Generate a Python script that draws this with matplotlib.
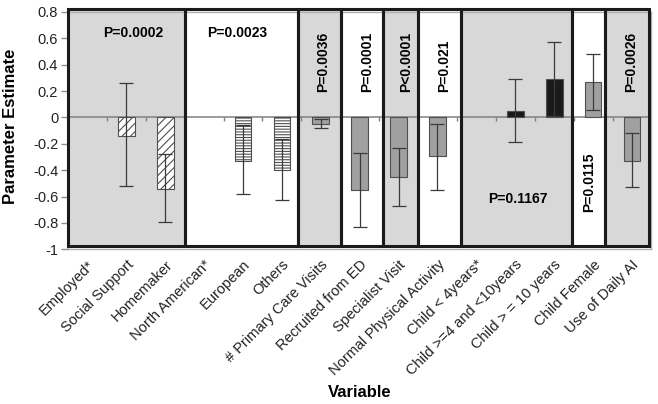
import numpy as np
import matplotlib
matplotlib.use('Agg')
import matplotlib.pyplot as plt
from matplotlib.patches import Rectangle

plt.rcParams['font.family'] = ['Liberation Sans', 'DejaVu Sans']
plt.rcParams['hatch.linewidth'] = 0.8

# variables and their parameter estimates (nan = reference category)
labels = ['Employed*', 'Social Support', 'Homemaker', 'North American*', 'European',
          'Others', '# Primary Care Visits', 'Recruited from ED', 'Specialist Visit',
          'Normal Physical Activity', 'Child < 4years*', 'Child >=4 and <10years',
          'Child > = 10 years', 'Child Female', 'Use of Daily AI']
estimate = [np.nan, -0.14, -0.54, np.nan, -0.33, -0.40, -0.05, -0.55, -0.45,
            -0.29, np.nan, 0.05, 0.29, 0.27, -0.33]
ci_low = [np.nan, -0.52, -0.79, np.nan, -0.58, -0.63, -0.08, -0.83, -0.67,
          -0.55, np.nan, -0.19, 0.01, 0.06, -0.53]
ci_high = [np.nan, 0.26, -0.28, np.nan, -0.06, -0.16, -0.01, -0.27, -0.23,
           -0.05, np.nan, 0.29, 0.57, 0.48, -0.12]

# bar styles per variable
face = ['white', 'white', 'white', 'white', 'white', 'white', '#a0a0a0', '#a0a0a0',
        '#a0a0a0', '#a0a0a0', '#1a1a1a', '#1a1a1a', '#1a1a1a', '#a0a0a0', '#a0a0a0']
hatch = ['////', '////', '////', '------', '------', '------', '', '', '', '', '', '',
         '', '', '']

# groups of variables: p-value text and whether the panel is shaded
p_text = ['P=0.0002', 'P=0.0023', 'P=0.0036', 'P=0.0001', 'P<0.0001', 'P=0.021',
          'P=0.1167', 'P=0.0115', 'P=0.0026']
shaded = [True, False, True, False, True, False, True, False, True]

# layout of the panels / p-value texts (data units)
panel_edges = [-0.5, 2.52, 5.42, 6.53, 7.61, 8.50, 9.60, 12.46, 13.31, 14.45]
p_pos = [(1.18, 0.64, 0, 'center'), (3.86, 0.64, 0, 'center'),
         (6.07, 0.19, 90, 'bottom'), (7.20, 0.19, 90, 'bottom'),
         (8.19, 0.19, 90, 'bottom'), (9.17, 0.19, 90, 'bottom'),
         (11.06, -0.62, 0, 'center'), (12.91, -0.72, 90, 'bottom'),
         (13.98, 0.19, 90, 'bottom')]

fig = plt.figure(figsize=(6.58, 4.04), dpi=100)
ax = fig.add_axes([0.1033, 0.383, 0.8867, 0.5873])

x = np.arange(len(labels))
est = np.array(estimate)
yerr = [est - np.array(ci_low), np.array(ci_high) - est]

# panels
top, bottom = 0.823, -0.977
for i in range(len(shaded)):
    x0, x1 = panel_edges[i], panel_edges[i + 1]
    if shaded[i]:
        ax.add_patch(Rectangle((x0, bottom), x1 - x0, top - bottom,
                               facecolor='#d8d8d8', edgecolor='none', zorder=0,
                               clip_on=False))
    ax.add_patch(Rectangle((x0, bottom), x1 - x0, top - bottom, facecolor='none',
                           edgecolor='#1a1a1a', lw=2.2, zorder=5, clip_on=False))
    tx, ty, rot, va = p_pos[i]
    ax.text(tx, ty, p_text[i], rotation=rot, ha='center', va=va, fontsize=10,
            fontweight='bold', zorder=6)

# zero line with small ticks between categories
ax.axhline(0, color='#808080', lw=1.1, zorder=1)
ax.vlines(x[:-1] + 0.5, -0.025, 0, color='#808080', lw=1.0, zorder=1)

ax.bar(x, est, width=0.43, color=face, hatch=hatch, edgecolor='#505050',
       linewidth=0.8, zorder=2)
ax.errorbar(x, est, yerr=yerr, fmt='none', ecolor='#3a3a3a', elinewidth=0.9,
            capsize=5, capthick=0.9, zorder=3)

ax.set_xlim(-0.5, 14.5)
ax.set_ylim(-1, 0.8)
ax.set_yticks(np.arange(-1, 0.81, 0.2))
ax.set_yticklabels(['-1', '-0.8', '-0.6', '-0.4', '-0.2', '0', '0.2', '0.4', '0.6', '0.8'])
ax.set_xticks(x)
ax.set_xticklabels(labels, rotation=45, ha='right', va='top', rotation_mode='anchor')
ax.tick_params(axis='x', length=0, pad=6, labelsize=10.5, labelcolor='#222222')
ax.tick_params(axis='y', length=5, width=1, color='#909090', pad=2, labelsize=10.5,
               labelcolor='#222222')
for s in ax.spines.values():
    s.set_color('#b0b0b0')
    s.set_linewidth(1)

ax.set_ylabel('Parameter Estimate', fontsize=12, fontweight='bold')
ax.yaxis.set_label_coords(-0.085, 0.52)
ax.set_xlabel('Variable', fontsize=12, fontweight='bold')
ax.xaxis.set_label_coords(0.5, -0.572)

plt.savefig('out.png', dpi=100)
